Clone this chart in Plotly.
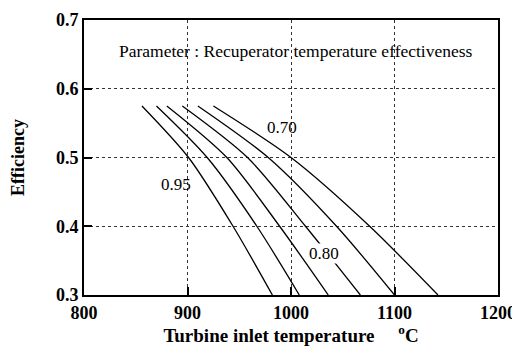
import plotly.graph_objects as go

# Efficiency levels sampled along each curve
eff_levels = [0.575, 0.5, 0.4, 0.3]

# Turbine inlet temperature (deg C) at each efficiency level, per recuperator effectiveness
t_095 = [856, 901, 944, 982]
t_090 = [870, 919, 967, 1008]
t_085 = [880, 938, 989, 1036]
t_080 = [895, 958, 1014, 1067]
t_075 = [910, 978, 1044, 1100]
t_070 = [925, 1000, 1076, 1142]

curve_names = ["0.95", "0.90", "0.85", "0.80", "0.75", "0.70"]
curves = [t_095, t_090, t_085, t_080, t_075, t_070]

x_ticks = [800, 900, 1000, 1100, 1200]
x_tick_labels = ["800", "900", "1000", "1100", "1200"]
y_ticks = [0.3, 0.4, 0.5, 0.6, 0.7]
y_tick_labels = ["0.3", "0.4", "0.5", "0.6", "0.7"]

FONT = "Liberation Serif"

fig = go.Figure()
for name, temps in zip(curve_names, curves):
    fig.add_trace(go.Scatter(
        x=temps, y=eff_levels, mode="lines", name=name,
        line=dict(color="black", width=1.3, shape="spline", smoothing=0.8),
        showlegend=False, hoverinfo="skip",
    ))

axis_common = dict(
    showline=True, linecolor="black", linewidth=1.8, mirror=True,
    showgrid=True, gridcolor="#333333", griddash="dot", gridwidth=0.8,
    ticks="inside", ticklen=8, tickwidth=1.5, tickcolor="black",
    zeroline=False, automargin=False,
    tickfont=dict(family=FONT, size=18, color="black", weight="bold"),
)

# page body adds an 8px offset, so the figure is sized 8px smaller
fig.update_layout(
    width=512, height=339,
    margin=dict(l=76, r=22, t=12, b=52),
    paper_bgcolor="white", plot_bgcolor="white",
    xaxis=dict(range=[800, 1200], tickvals=x_ticks, ticktext=x_tick_labels,
               title=dict(text="Turbine inlet temperature     <sup>o</sup>C",
                          font=dict(family=FONT, size=19, color="black", weight="bold"),
                          standoff=2),
               **axis_common),
    yaxis=dict(range=[0.3, 0.7], tickvals=y_ticks, ticktext=y_tick_labels,
               title=dict(text="Efficiency",
                          font=dict(family=FONT, size=18, color="black", weight="bold"),
                          standoff=27),
               **axis_common),
    font=dict(family=FONT, color="black"),
)

ANN_FONT = dict(family=FONT, size=17, color="black")
fig.add_annotation(x=1005, y=0.655, text="Parameter : Recuperator temperature effectiveness",
                   showarrow=False, font=dict(family=FONT, size=17.5, color="black"))
fig.add_annotation(x=991, y=0.544, text="0.70", showarrow=False, font=ANN_FONT)
fig.add_annotation(x=889, y=0.461, text="0.95", showarrow=False, font=ANN_FONT)
fig.add_annotation(x=1032, y=0.361, text="0.80", showarrow=False, bgcolor="white",
                   borderpad=0, font=ANN_FONT)

fig.write_html("out.html")
